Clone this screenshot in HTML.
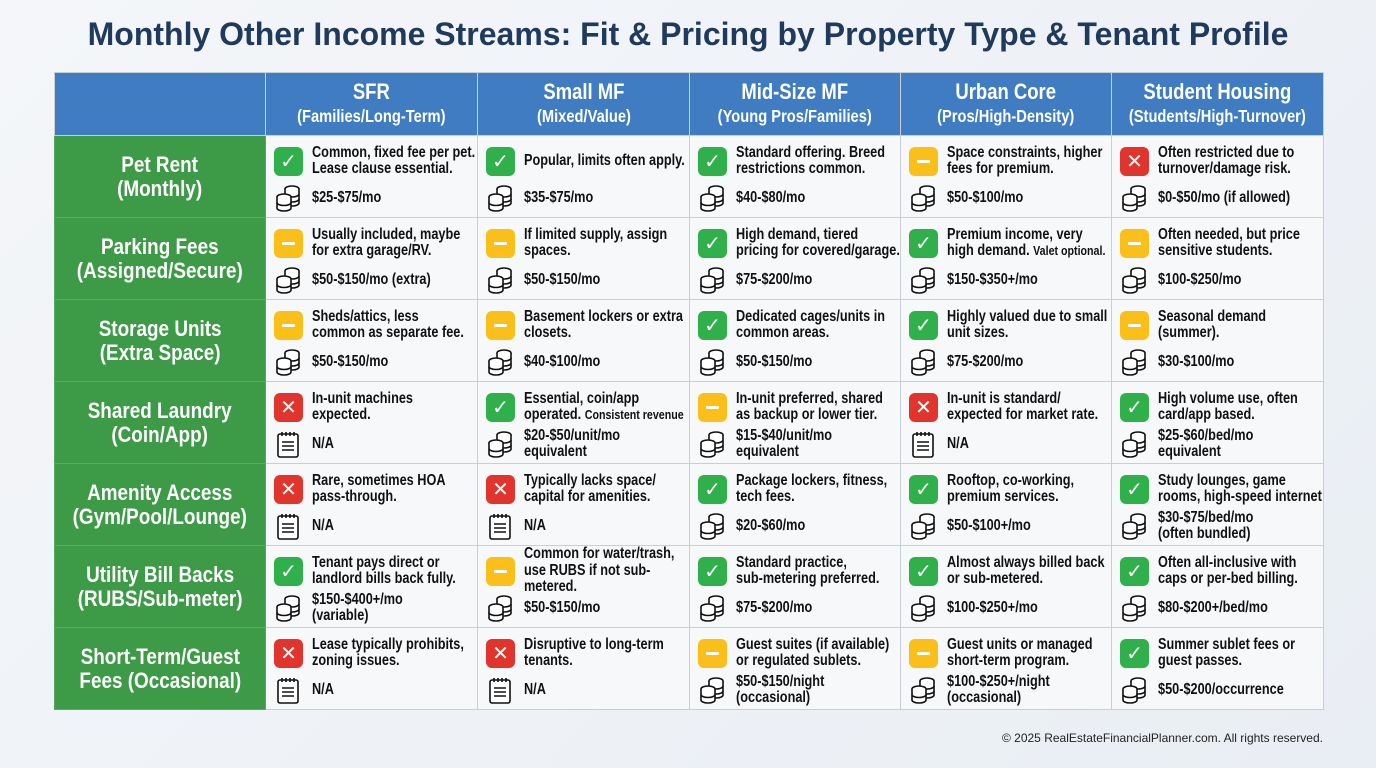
<!DOCTYPE html>
<html><head><meta charset="utf-8"><style>
*{margin:0;padding:0;box-sizing:border-box}
body{width:1376px;height:768px;background:linear-gradient(135deg,#f4f6f9,#e9eef4);font-family:"Liberation Sans",sans-serif;position:relative;overflow:hidden}
h1{position:absolute;top:16px;left:0;width:1376px;text-align:center;font-size:32px;font-weight:bold;color:#1f3a5c}
table{position:absolute;left:54px;top:72px;border-collapse:collapse;table-layout:fixed;width:1269px}
td,th{border:1px solid #c9ced6}
th{background:#3f7cc2;color:#fff;height:63px;font-weight:bold;text-align:center;white-space:nowrap}
.hc{display:inline-block;transform:scaleX(.84);font-size:22px;line-height:24px}
.hc small{font-size:17.5px;display:block;font-weight:bold}
td.l{background:#3d9a46;color:#fff;font-weight:bold;text-align:center;border-color:#57ad5d;white-space:nowrap}
td.l .hc{font-size:22.5px;line-height:24px}
td.c{background:#f7f8fa;height:82px;vertical-align:top;position:relative;font-weight:bold;font-size:15.5px;line-height:16.5px;color:#111}
.d,.p{position:absolute;left:0;right:0;display:flex;align-items:center}
.d{top:5px;height:40px}.p{top:44px;height:36px}
.d span,.p span{margin-left:46px;display:inline-block;white-space:nowrap;transform:scaleX(.82);transform-origin:left center}
.ic{position:absolute;left:8px;width:29px;height:29px;border-radius:6px;color:#fff;font-size:20px;line-height:29px;text-align:center;font-family:"DejaVu Sans",sans-serif;font-weight:bold;font-style:normal}
.g{background:#2fb04a}.y{background:#fbbf1a}.r{background:#e0342c}
.y::after{content:"";position:absolute;left:8px;top:13px;width:13px;height:3px;background:#fff;border-radius:1px}
.coin{position:absolute;left:8px;width:28px;height:28px}
.foot{position:absolute;right:53px;top:731px;font-size:12px;color:#222}
</style></head><body>
<h1>Monthly Other Income Streams: Fit &amp; Pricing by Property Type &amp; Tenant Profile</h1>
<svg width="0" height="0" style="position:absolute"><defs>
<symbol id="co" viewBox="0 0 28 28"><g fill="#fff" stroke="#111" stroke-width="1.6"><ellipse cx="18" cy="5" rx="7" ry="3"/><path d="M11 5v14c0 1.7 3 3 7 3s7-1.3 7-3V5"/><path d="M11 10c0 1.7 3 3 7 3s7-1.3 7-3M11 15c0 1.7 3 3 7 3s7-1.3 7-3"/><ellipse cx="10" cy="13" rx="7" ry="3"/><path d="M3 13v11c0 1.7 3 3 7 3s7-1.3 7-3V13"/><path d="M3 18.5c0 1.7 3 3 7 3s7-1.3 7-3"/></g></symbol>
<symbol id="nt" viewBox="0 0 28 28"><g fill="#fff" stroke="#111" stroke-width="1.6"><rect x="4" y="4" width="20" height="23" rx="2"/><path d="M8 2v4M12 2v4M16 2v4M20 2v4M8 12h12M8 16h12M8 20h12"/></g></symbol>
</defs></svg>
<table>
<colgroup><col style="width:211px"><col style="width:212px"><col style="width:212px"><col style="width:211px"><col style="width:211px"><col style="width:212px"></colgroup>
<tr><th></th><th><span class="hc">SFR<small>(Families/Long-Term)</small></span></th><th><span class="hc">Small MF<small>(Mixed/Value)</small></span></th><th><span class="hc">Mid-Size MF<small>(Young Pros/Families)</small></span></th><th><span class="hc">Urban Core<small>(Pros/High-Density)</small></span></th><th><span class="hc">Student Housing<small>(Students/High-Turnover)</small></span></th></tr>
<tr><td class="l"><span class="hc">Pet Rent<br>(Monthly)</span></td>
<td class="c"><div class="d"><i class="ic g">✓</i><span>Common, fixed fee per pet.<br>Lease clause essential.</span></div><div class="p"><svg class="coin"><use href="#co"/></svg><span>$25-$75/mo</span></div></td>
<td class="c"><div class="d"><i class="ic g">✓</i><span>Popular, limits often apply.</span></div><div class="p"><svg class="coin"><use href="#co"/></svg><span>$35-$75/mo</span></div></td>
<td class="c"><div class="d"><i class="ic g">✓</i><span>Standard offering. Breed<br>restrictions common.</span></div><div class="p"><svg class="coin"><use href="#co"/></svg><span>$40-$80/mo</span></div></td>
<td class="c"><div class="d"><i class="ic y"></i><span>Space constraints, higher<br>fees for premium.</span></div><div class="p"><svg class="coin"><use href="#co"/></svg><span>$50-$100/mo</span></div></td>
<td class="c"><div class="d"><i class="ic r">✕</i><span>Often restricted due to<br>turnover/damage risk.</span></div><div class="p"><svg class="coin"><use href="#co"/></svg><span>$0-$50/mo (if allowed)</span></div></td></tr>
<tr><td class="l"><span class="hc">Parking Fees<br>(Assigned/Secure)</span></td>
<td class="c"><div class="d"><i class="ic y"></i><span>Usually included, maybe<br>for extra garage/RV.</span></div><div class="p"><svg class="coin"><use href="#co"/></svg><span>$50-$150/mo (extra)</span></div></td>
<td class="c"><div class="d"><i class="ic y"></i><span>If limited supply, assign<br>spaces.</span></div><div class="p"><svg class="coin"><use href="#co"/></svg><span>$50-$150/mo</span></div></td>
<td class="c"><div class="d"><i class="ic g">✓</i><span>High demand, tiered<br>pricing for covered/garage.</span></div><div class="p"><svg class="coin"><use href="#co"/></svg><span>$75-$200/mo</span></div></td>
<td class="c"><div class="d"><i class="ic g">✓</i><span>Premium income, very<br>high demand. <small style="font-size:13px">Valet optional.</small></span></div><div class="p"><svg class="coin"><use href="#co"/></svg><span>$150-$350+/mo</span></div></td>
<td class="c"><div class="d"><i class="ic y"></i><span>Often needed, but price<br>sensitive students.</span></div><div class="p"><svg class="coin"><use href="#co"/></svg><span>$100-$250/mo</span></div></td></tr>
<tr><td class="l"><span class="hc">Storage Units<br>(Extra Space)</span></td>
<td class="c"><div class="d"><i class="ic y"></i><span>Sheds/attics, less<br>common as separate fee.</span></div><div class="p"><svg class="coin"><use href="#co"/></svg><span>$50-$150/mo</span></div></td>
<td class="c"><div class="d"><i class="ic y"></i><span>Basement lockers or extra<br>closets.</span></div><div class="p"><svg class="coin"><use href="#co"/></svg><span>$40-$100/mo</span></div></td>
<td class="c"><div class="d"><i class="ic g">✓</i><span>Dedicated cages/units in<br>common areas.</span></div><div class="p"><svg class="coin"><use href="#co"/></svg><span>$50-$150/mo</span></div></td>
<td class="c"><div class="d"><i class="ic g">✓</i><span>Highly valued due to small<br>unit sizes.</span></div><div class="p"><svg class="coin"><use href="#co"/></svg><span>$75-$200/mo</span></div></td>
<td class="c"><div class="d"><i class="ic y"></i><span>Seasonal demand<br>(summer).</span></div><div class="p"><svg class="coin"><use href="#co"/></svg><span>$30-$100/mo</span></div></td></tr>
<tr><td class="l"><span class="hc">Shared Laundry<br>(Coin/App)</span></td>
<td class="c"><div class="d"><i class="ic r">✕</i><span>In-unit machines<br>expected.</span></div><div class="p"><svg class="coin"><use href="#nt"/></svg><span>N/A</span></div></td>
<td class="c"><div class="d"><i class="ic g">✓</i><span>Essential, coin/app<br>operated. <small style="font-size:13px">Consistent revenue</small></span></div><div class="p"><svg class="coin"><use href="#co"/></svg><span>$20-$50/unit/mo<br>equivalent</span></div></td>
<td class="c"><div class="d"><i class="ic y"></i><span>In-unit preferred, shared<br>as backup or lower tier.</span></div><div class="p"><svg class="coin"><use href="#co"/></svg><span>$15-$40/unit/mo<br>equivalent</span></div></td>
<td class="c"><div class="d"><i class="ic r">✕</i><span>In-unit is standard/<br>expected for market rate.</span></div><div class="p"><svg class="coin"><use href="#nt"/></svg><span>N/A</span></div></td>
<td class="c"><div class="d"><i class="ic g">✓</i><span>High volume use, often<br>card/app based.</span></div><div class="p"><svg class="coin"><use href="#co"/></svg><span>$25-$60/bed/mo<br>equivalent</span></div></td></tr>
<tr><td class="l"><span class="hc">Amenity Access<br>(Gym/Pool/Lounge)</span></td>
<td class="c"><div class="d"><i class="ic r">✕</i><span>Rare, sometimes HOA<br>pass-through.</span></div><div class="p"><svg class="coin"><use href="#nt"/></svg><span>N/A</span></div></td>
<td class="c"><div class="d"><i class="ic r">✕</i><span>Typically lacks space/<br>capital for amenities.</span></div><div class="p"><svg class="coin"><use href="#nt"/></svg><span>N/A</span></div></td>
<td class="c"><div class="d"><i class="ic g">✓</i><span>Package lockers, fitness,<br>tech fees.</span></div><div class="p"><svg class="coin"><use href="#co"/></svg><span>$20-$60/mo</span></div></td>
<td class="c"><div class="d"><i class="ic g">✓</i><span>Rooftop, co-working,<br>premium services.</span></div><div class="p"><svg class="coin"><use href="#co"/></svg><span>$50-$100+/mo</span></div></td>
<td class="c"><div class="d"><i class="ic g">✓</i><span>Study lounges, game<br>rooms, high-speed internet</span></div><div class="p"><svg class="coin"><use href="#co"/></svg><span>$30-$75/bed/mo<br>(often bundled)</span></div></td></tr>
<tr><td class="l"><span class="hc">Utility Bill Backs<br>(RUBS/Sub-meter)</span></td>
<td class="c"><div class="d"><i class="ic g">✓</i><span>Tenant pays direct or<br>landlord bills back fully.</span></div><div class="p"><svg class="coin"><use href="#co"/></svg><span>$150-$400+/mo<br>(variable)</span></div></td>
<td class="c"><div class="d"><i class="ic y"></i><span>Common for water/trash,<br>use RUBS if not sub-<br>metered.</span></div><div class="p"><svg class="coin"><use href="#co"/></svg><span>$50-$150/mo</span></div></td>
<td class="c"><div class="d"><i class="ic g">✓</i><span>Standard practice,<br>sub-metering preferred.</span></div><div class="p"><svg class="coin"><use href="#co"/></svg><span>$75-$200/mo</span></div></td>
<td class="c"><div class="d"><i class="ic g">✓</i><span>Almost always billed back<br>or sub-metered.</span></div><div class="p"><svg class="coin"><use href="#co"/></svg><span>$100-$250+/mo</span></div></td>
<td class="c"><div class="d"><i class="ic g">✓</i><span>Often all-inclusive with<br>caps or per-bed billing.</span></div><div class="p"><svg class="coin"><use href="#co"/></svg><span>$80-$200+/bed/mo</span></div></td></tr>
<tr><td class="l"><span class="hc">Short-Term/Guest<br>Fees (Occasional)</span></td>
<td class="c"><div class="d"><i class="ic r">✕</i><span>Lease typically prohibits,<br>zoning issues.</span></div><div class="p"><svg class="coin"><use href="#nt"/></svg><span>N/A</span></div></td>
<td class="c"><div class="d"><i class="ic r">✕</i><span>Disruptive to long-term<br>tenants.</span></div><div class="p"><svg class="coin"><use href="#nt"/></svg><span>N/A</span></div></td>
<td class="c"><div class="d"><i class="ic y"></i><span>Guest suites (if available)<br>or regulated sublets.</span></div><div class="p"><svg class="coin"><use href="#co"/></svg><span>$50-$150/night<br>(occasional)</span></div></td>
<td class="c"><div class="d"><i class="ic y"></i><span>Guest units or managed<br>short-term program.</span></div><div class="p"><svg class="coin"><use href="#co"/></svg><span>$100-$250+/night<br>(occasional)</span></div></td>
<td class="c"><div class="d"><i class="ic g">✓</i><span>Summer sublet fees or<br>guest passes.</span></div><div class="p"><svg class="coin"><use href="#co"/></svg><span>$50-$200/occurrence</span></div></td></tr>
</table>
<div class="foot">© 2025 RealEstateFinancialPlanner.com. All rights reserved.</div>
</body></html>
